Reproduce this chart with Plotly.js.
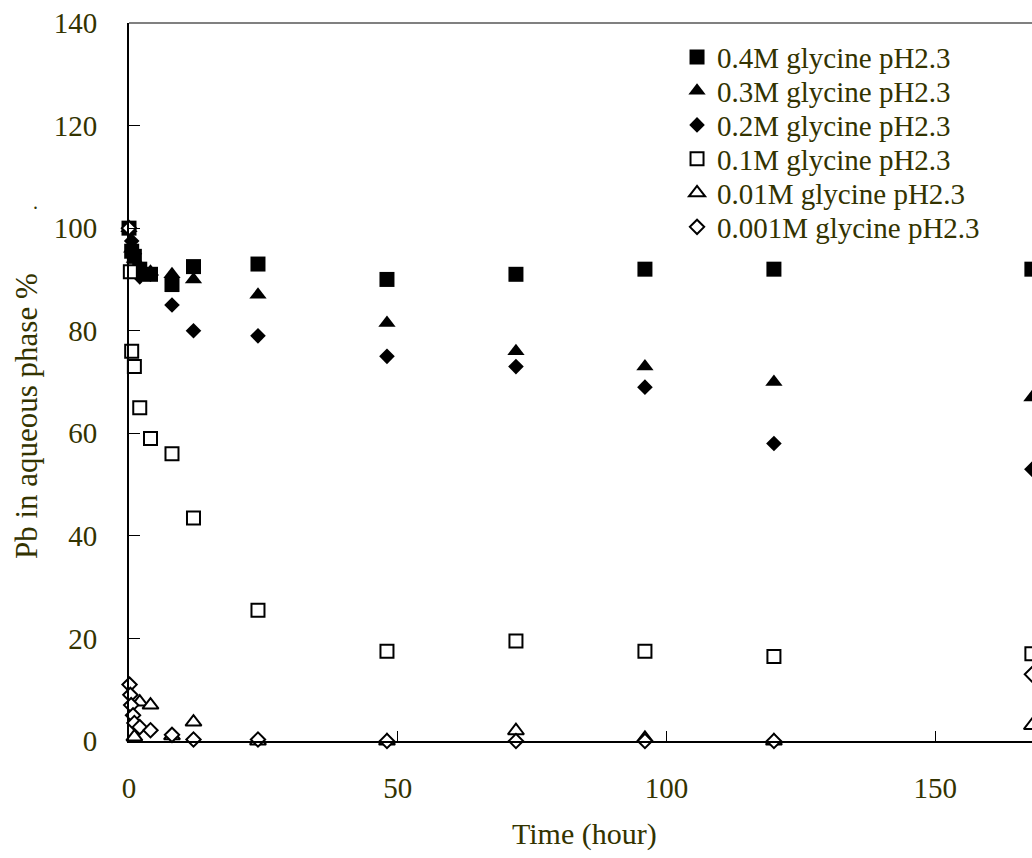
<!DOCTYPE html>
<html>
<head>
<meta charset="utf-8">
<script src="https://cdn.plot.ly/plotly-3.0.1.min.js"></script>
<style>html,body{margin:0;padding:0;background:#fff;}#chart{width:1032px;height:858px;}</style>
</head>
<body>
<div id="chart"></div>
<script>
// Time (hour)
const timeMain = [0, 0.5, 1, 2, 4, 8, 12, 24, 48, 72, 96, 120, 168];
const gly04 = [100, 95.5, 94.5, 92, 91, 89, 92.5, 93, 90, 91, 92, 92, 92];
const gly03 = [100, 96, 94, 91, 91.5, 91, 90, 87, 81.5, 76, 73, 70, 67];
const gly02 = [100, 97.5, 95, 90.5, 91, 85, 80, 79, 75, 73, 69, 58, 53];
const time01 = [0.25, 0.5, 1, 2, 4, 8, 12, 24, 48, 72, 96, 120, 168];
const gly01 = [91.5, 76, 73, 65, 59, 56, 43.5, 25.5, 17.5, 19.5, 17.5, 16.5, 17];
const time001 = [1, 2, 4, 8, 12, 24, 48, 72, 96, 120, 168];
const gly001 = [0.8, 7.6, 7, 1, 3.7, 0, 0, 2, 0.5, 0, 3];
const time0001 = [0, 0.1, 0.25, 0.4, 0.75, 1, 2, 4, 8, 12, 24, 48, 72, 96, 120, 168];
const gly0001 = [100, 11, 9, 7, 5, 3.5, 2.7, 2.1, 1.2, 0.3, 0.3, 0, 0, 0, 0, 13];
const seriesNames = ["0.4M glycine pH2.3", "0.3M glycine pH2.3", "0.2M glycine pH2.3",
  "0.1M glycine pH2.3", "0.01M glycine pH2.3", "0.001M glycine pH2.3"];
const yTicks = [0, 20, 40, 60, 80, 100, 120, 140];
const xTicks = [0, 50, 100, 150];

const txt = "#333300";
const font = "Liberation Serif, Times New Roman, serif";
const legendIds = ["legend", "legend2", "legend3", "legend4", "legend5", "legend6"];

function tr(i, x, y, symbol, size, filled) {
  return {
    x: x, y: y, name: seriesNames[i], type: "scatter", mode: "markers", cliponaxis: false,
    legend: legendIds[i],
    marker: {
      symbol: symbol, size: size,
      color: filled ? "#000000" : "#ffffff",
      line: {color: "#000000", width: filled ? 0 : 2}
    }
  };
}

const data = [
  tr(0, timeMain, gly04, "square", 15, true),
  tr(1, timeMain, gly03, "triangle-up", 15, true),
  tr(2, timeMain, gly02, "diamond", 12, true),
  tr(3, time01, gly01, "square", 13, false),
  tr(4, time001, gly001, "triangle-up", 14, false),
  tr(5, time0001, gly0001, "diamond", 11, false)
];

const layout = {
  width: 1032, height: 858,
  margin: {l: 129, r: 0, t: 23, b: 117},
  paper_bgcolor: "#ffffff", plot_bgcolor: "#ffffff",
  showlegend: true,
  font: {family: font, color: txt, size: 29},
  xaxis: {
    range: [0, 168.02], tickvals: xTicks, ticktext: xTicks.map(String),
    showgrid: false, zeroline: false, showline: true, linecolor: "#000000", linewidth: 2,
    ticks: "inside", ticklen: 10, tickwidth: 1, tickcolor: "#000000",
    tickfont: {family: font, size: 29, color: txt}, ticklabelstandoff: 20
  },
  yaxis: {
    range: [0, 140], tickvals: yTicks, ticktext: yTicks.map(String),
    showgrid: false, zeroline: false, showline: true, linecolor: "#000000", linewidth: 2,
    ticks: "inside", ticklen: 11, tickwidth: 1, tickcolor: "#000000",
    tickfont: {family: font, size: 29, color: txt}, ticklabelstandoff: 24
  },
  shapes: [
    {type: "line", xref: "paper", yref: "paper", x0: 0, x1: 1, y0: 1, y1: 1,
     line: {color: "#808080", width: 2}}
  ],
  annotations: [
    {text: "Pb in aqueous phase %", xref: "paper", yref: "paper",
     x: -0.114, y: 0.4526, xanchor: "center", yanchor: "middle", textangle: -90,
     showarrow: false, font: {family: font, size: 31, color: txt}},
    {text: ".", xref: "paper", yref: "paper", x: -0.104, y: 0.751,
     xanchor: "center", yanchor: "middle", showarrow: false,
     font: {family: font, size: 20, color: txt}},
    {text: "Time (hour)", xref: "paper", yref: "paper", x: 0.504, y: -0.13,
     xanchor: "center", yanchor: "middle", showarrow: false,
     font: {family: font, size: 30, color: txt}}
  ]
};

// one legend box per entry so the rows can sit as tightly as in the reference
const legendRowY = [0.9526, 0.9053, 0.8579, 0.8106, 0.7632, 0.7159];
legendIds.forEach(function (id, i) {
  layout[id] = {
    x: 0.6069, y: legendRowY[i], xanchor: "left", yanchor: "middle",
    bgcolor: "rgba(0,0,0,0)", borderwidth: 0,
    font: {family: font, size: 29, color: txt}, itemwidth: 30
  };
});

Plotly.newPlot("chart", data, layout, {displayModeBar: false, staticPlot: true});
</script>
</body>
</html>
